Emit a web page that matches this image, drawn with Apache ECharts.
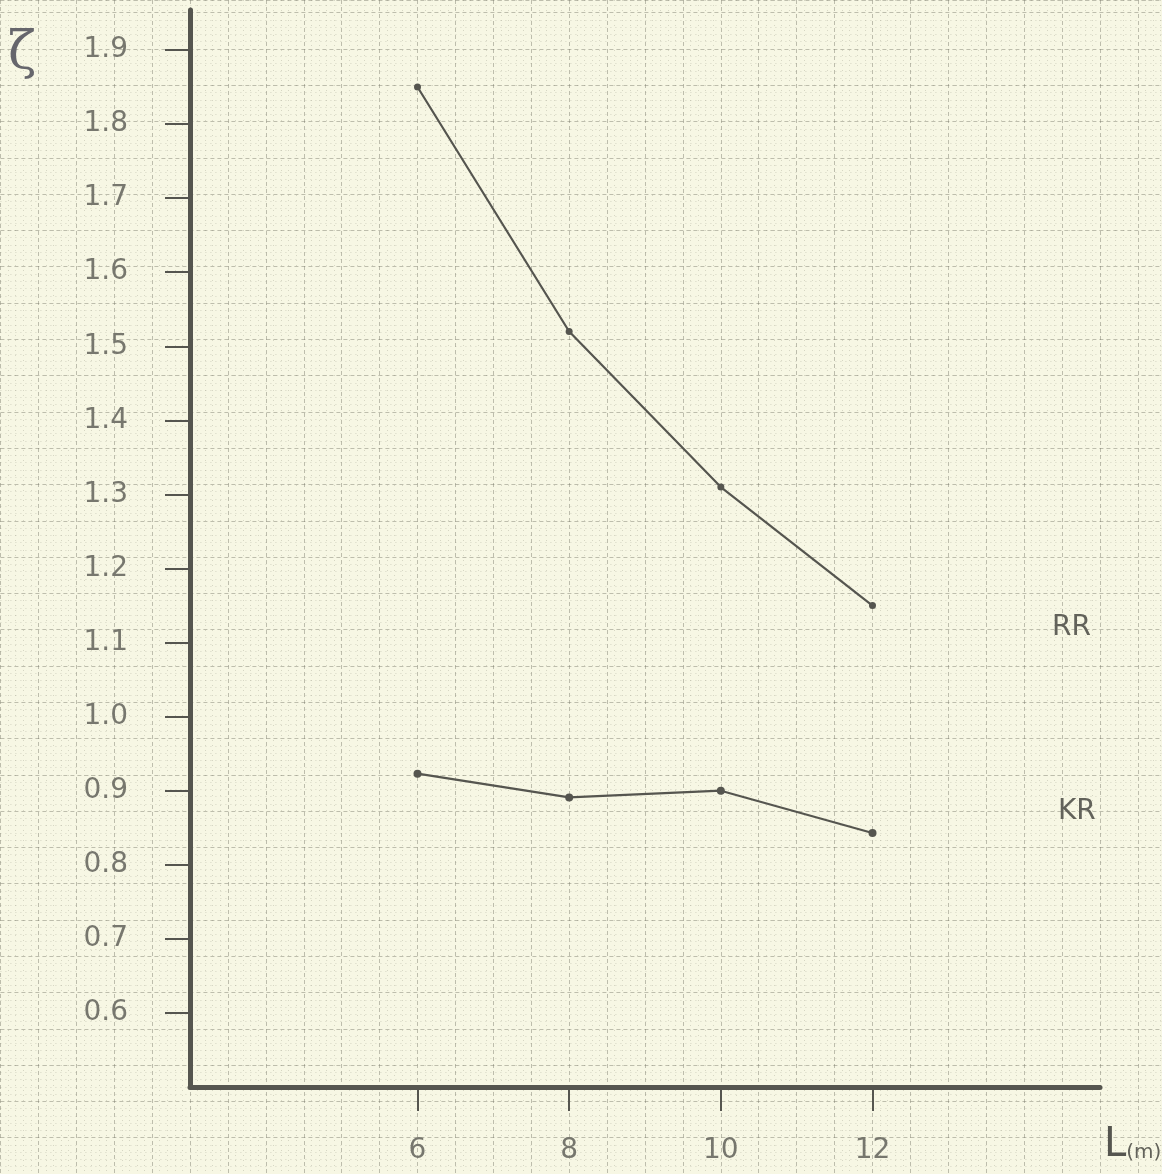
<!DOCTYPE html>
<html>
<head>
<meta charset="utf-8">
<script src="https://cdn.jsdelivr.net/npm/echarts@6/dist/echarts.min.js"></script>
<style>
  html, body { margin: 0; padding: 0; background: #f7f7e4; }
  #chart { width: 1162px; height: 1174px; }
</style>
</head>
<body>
<div id="chart"></div>
<script>
// lengths in metres
const lengths = [6, 8, 10, 12];
const rrValues = [1.85, 1.52, 1.31, 1.15];
const krValues = [0.923, 0.891, 0.9, 0.843];
const xTickValues = [6, 8, 10, 12];
const yTickValues = [0.6, 0.7, 0.8, 0.9, 1.0, 1.1, 1.2, 1.3, 1.4, 1.5, 1.6, 1.7, 1.8, 1.9];

const INK = "#55554f";
const LABEL = "#77776e";
const DASH = "rgba(110,110,95,0.42)";
const DOT = "rgba(130,130,110,0.28)";
const FONT = "DejaVu Sans";

// main plot box (px)
const L = 190, R = 62, T = 10, B = 87, W = 1162, H = 1174;
const xMin = 3, xMax = 15, yMin = 0.5, yMax = 1.954;
const ux = (W - L - R) / (xMax - xMin);
const uy = (H - T - B) / (yMax - yMin);

// graph paper grid, aligned with the main scale
const bgXMin = 0.5, bgYMin = 0.35;
const bgLeft = L - (xMin - bgXMin) * ux;
const bgXMax = bgXMin + (W - bgLeft) / ux;
const bgBottom = H - ((H - B) + (yMin - bgYMin) * uy);
const bgYMax = yMin + (H - B) / uy;

const chart = echarts.init(document.getElementById("chart"));

chart.setOption({
  backgroundColor: "#f7f7e4",
  animation: false,
  grid: [
    { left: L, right: R, top: T, bottom: B, containLabel: false },
    { left: bgLeft, right: 0, top: 0, bottom: bgBottom, containLabel: false }
  ],
  xAxis: [
    {
      type: "value", gridIndex: 0, min: xMin, max: xMax, z: 3,
      axisLine: { lineStyle: { color: INK, width: 5 } },
      splitLine: { show: false },
      axisTick: { show: true, customValues: xTickValues, length: 24, inside: false,
        lineStyle: { color: INK, width: 2 } },
      axisLabel: { customValues: xTickValues, margin: 50, color: LABEL, fontSize: 28, fontFamily: FONT }
    },
    {
      type: "value", gridIndex: 1, min: bgXMin, max: bgXMax, interval: 0.5, z: 0,
      axisLine: { show: false }, axisTick: { show: false }, axisLabel: { show: false },
      splitLine: { show: true, lineStyle: { color: DASH, width: 1, type: [4, 3] } },
      minorTick: { show: false, splitNumber: 5 },
      minorSplitLine: { show: true, lineStyle: { color: DOT, width: 1, type: [1, 4] } }
    }
  ],
  yAxis: [
    {
      type: "value", gridIndex: 0, min: yMin, max: yMax, z: 3,
      axisLine: { lineStyle: { color: INK, width: 5 } },
      splitLine: { show: false },
      axisTick: { show: true, customValues: yTickValues, length: 25,
        lineStyle: { color: INK, width: 2 } },
      axisLabel: { customValues: yTickValues, margin: 62, color: LABEL, fontSize: 28, fontFamily: FONT,
        formatter: (v) => v.toFixed(1) }
    },
    {
      type: "value", gridIndex: 1, min: bgYMin, max: bgYMax, interval: 0.05, z: 0,
      axisLine: { show: false }, axisTick: { show: false }, axisLabel: { show: false },
      splitLine: { show: true, lineStyle: { color: DASH, width: 1, type: [4, 3] } },
      minorTick: { show: false, splitNumber: 5 },
      minorSplitLine: { show: true, lineStyle: { color: DOT, width: 1, type: [1, 4] } }
    }
  ],
  series: [
    {
      name: "RR", type: "line", xAxisIndex: 0, yAxisIndex: 0, z: 5,
      data: lengths.map((x, i) => [x, rrValues[i]]),
      symbol: "circle", symbolSize: 7,
      itemStyle: { color: INK },
      lineStyle: { color: INK, width: 2.2 }
    },
    {
      name: "KR", type: "line", xAxisIndex: 0, yAxisIndex: 0, z: 5,
      data: lengths.map((x, i) => [x, krValues[i]]),
      symbol: "circle", symbolSize: 8,
      itemStyle: { color: INK },
      lineStyle: { color: INK, width: 2.2 }
    }
  ],
  graphic: [
    { type: "text", left: 1052, top: 614, z: 10,
      style: { text: "RR", fontSize: 28, fontFamily: FONT, fill: "#62625a" } },
    { type: "text", left: 1058, top: 798, z: 10,
      style: { text: "KR", fontSize: 28, fontFamily: FONT, fill: "#62625a" } },
    { type: "text", left: 8, top: 28, z: 10,
      style: { text: "ζ", fontSize: 52, fontFamily: "DejaVu Serif", fill: "#66666c" } },
    { type: "text", left: 1104, top: 1126, z: 10,
      style: {
        text: "{a|L}{b|(m)}",
        rich: {
          a: { fontSize: 40, fontFamily: FONT, fill: "#55554f" },
          b: { fontSize: 20, fontFamily: FONT, fill: "#62625a", padding: [14, 0, 0, 0] }
        }
      } }
  ]
});
</script>
</body>
</html>
